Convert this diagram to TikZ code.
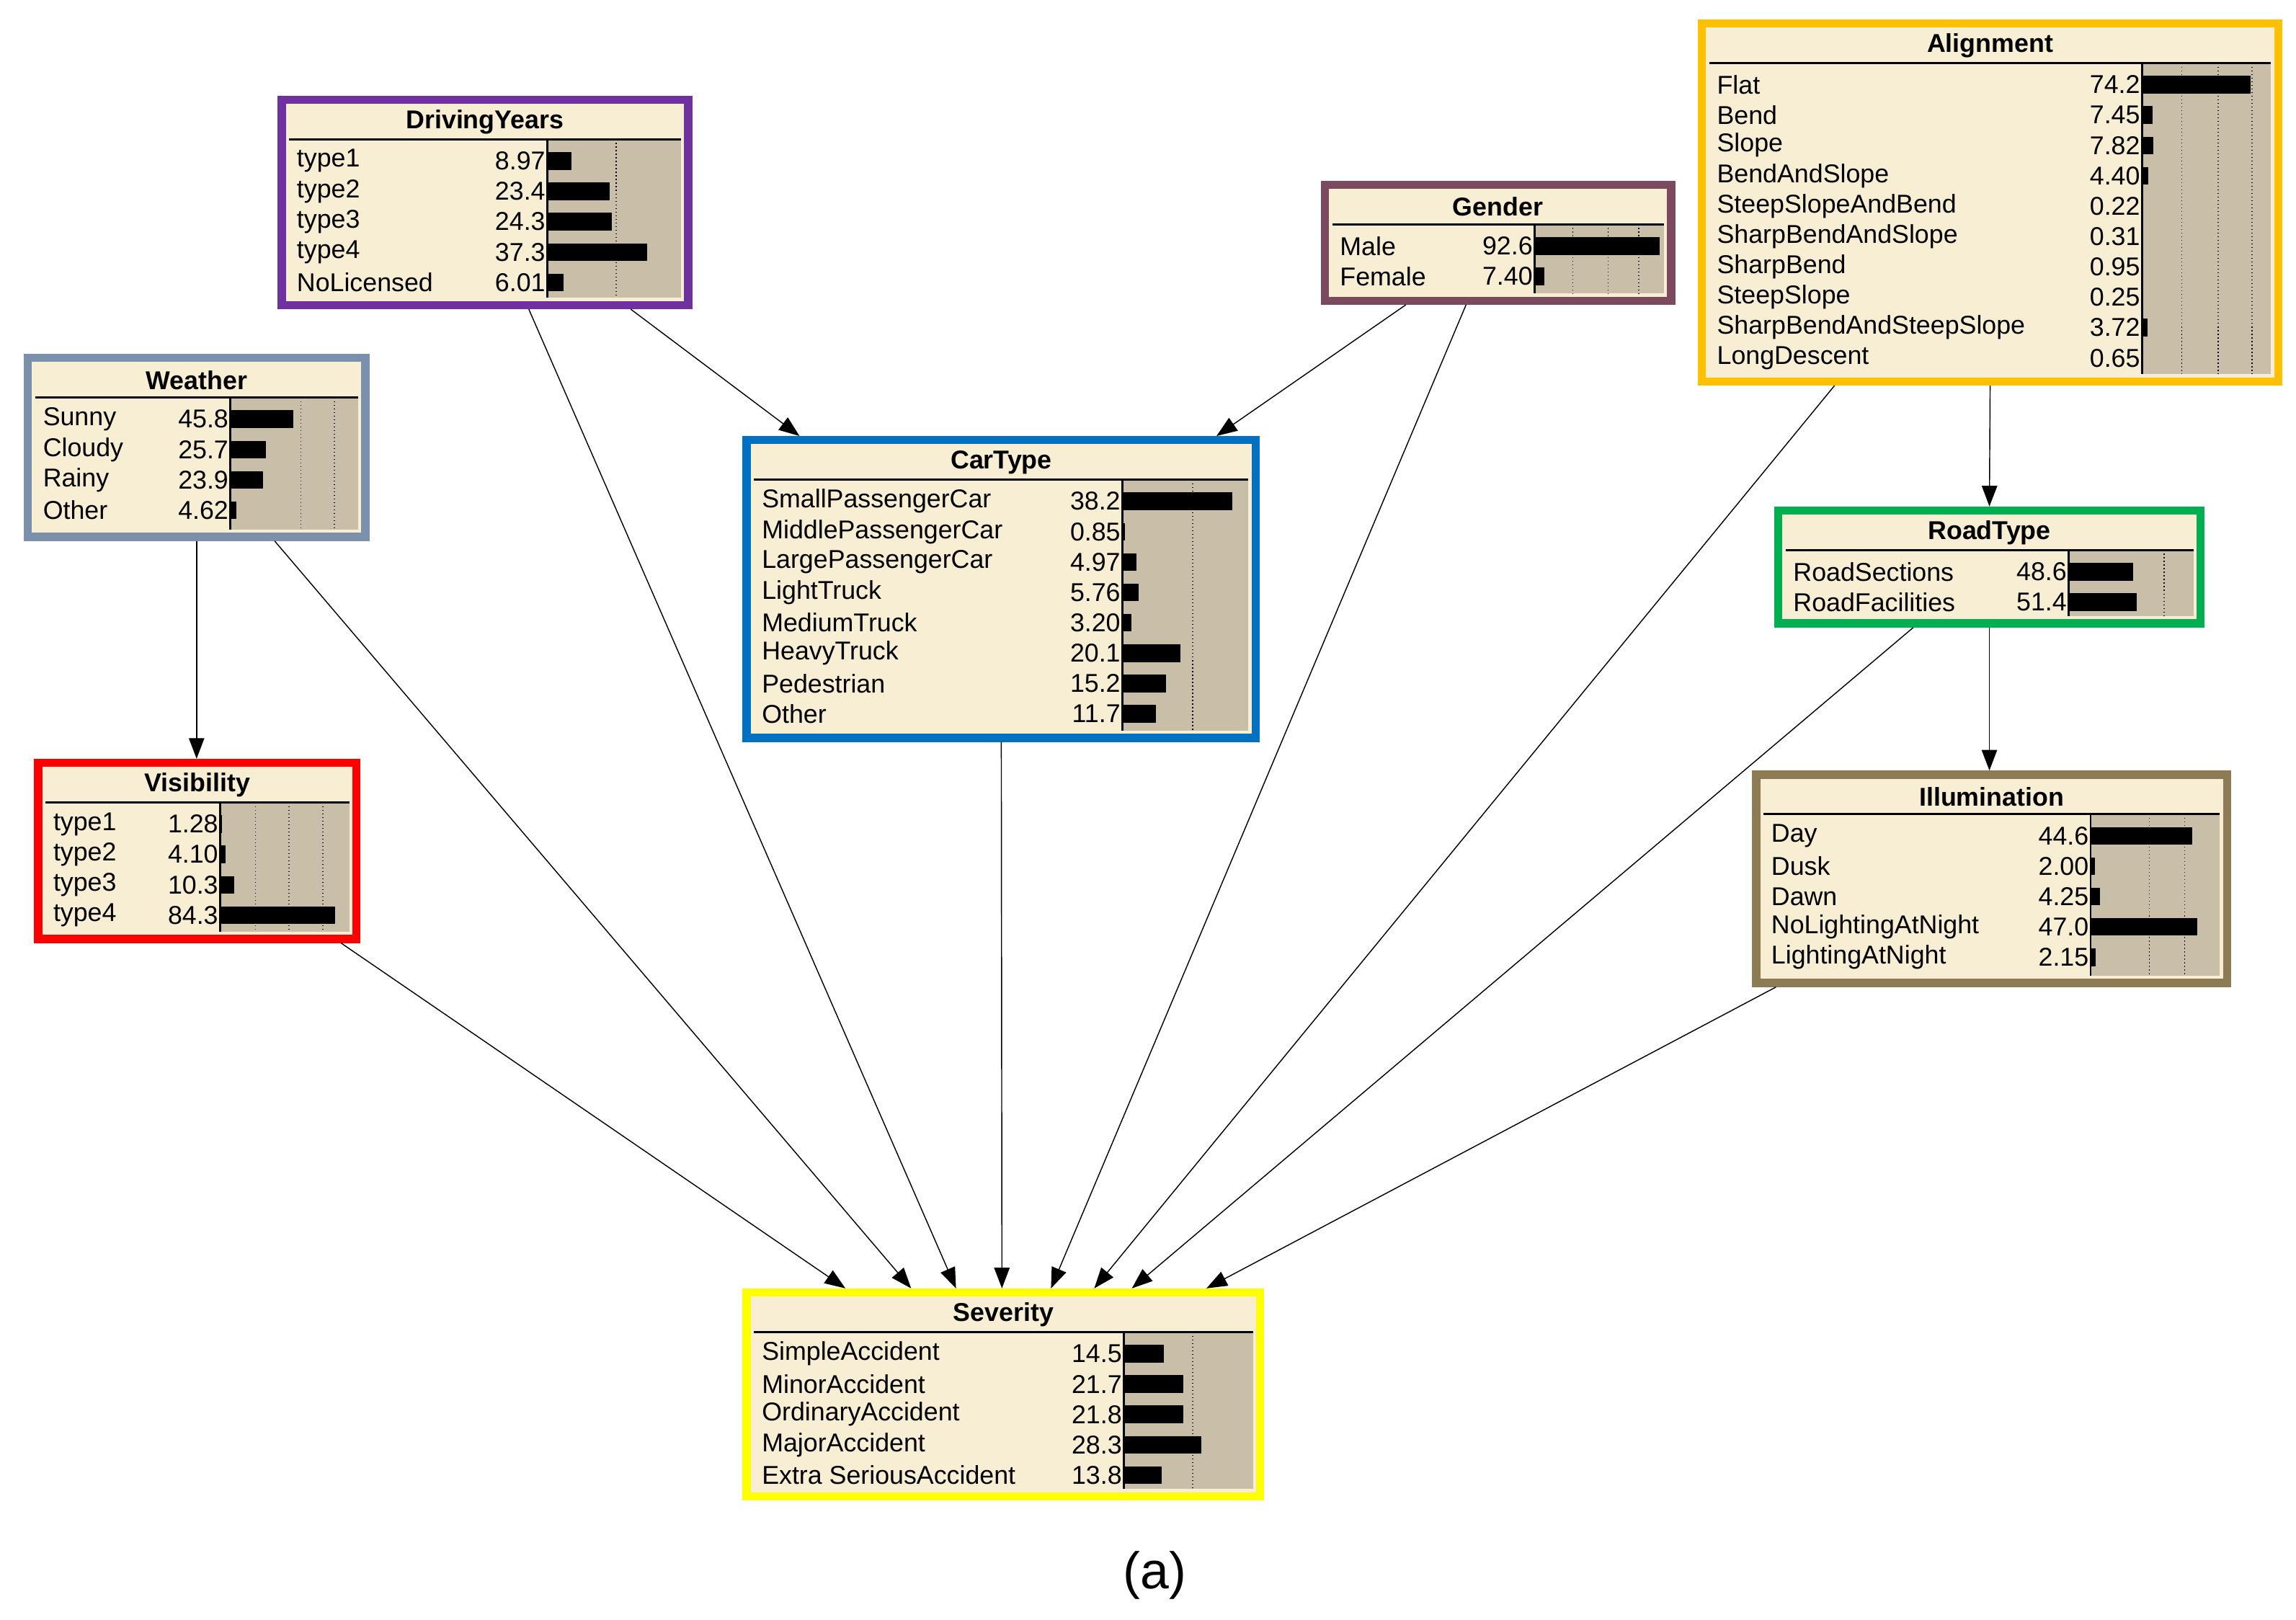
\documentclass[tikz,border=0pt]{standalone}
\usepackage{fontspec}
\setmainfont{Liberation Sans}
\usetikzlibrary{arrows.meta,calc}
\definecolor{cream}{HTML}{F8EED4}
\definecolor{bararea}{HTML}{C9BFA9}
\definecolor{cDriving}{HTML}{7030A0}
\definecolor{cWeather}{HTML}{7A90AC}
\definecolor{cGender}{HTML}{7B4A5E}
\definecolor{cAlign}{HTML}{FFC000}
\definecolor{cCar}{HTML}{0070C0}
\definecolor{cRoad}{HTML}{00B050}
\definecolor{cVis}{HTML}{FF0000}
\definecolor{cIllum}{HTML}{8C7B55}
\definecolor{cSev}{HTML}{FFFF00}
% #1 name, #2 colour, #3 title, #4-#7 x1,y1,x2,y2, #8 bar start, #9 px per percent
\newcommand{\bnnode}[9]{%
  \pgfmathsetmacro{\bw}{(#6-#4)*0.02}
  \pgfmathsetmacro{\bh}{(#7-#5)*0.02}
  \node[bn box, draw=#2, minimum width=\bw cm, minimum height=\bh cm] (#1) at ({(#4+#6)/2},{(#5+#7)/2}) {};
  \fill[bararea] (#8,#5+27) rectangle (#6-5,#7-5);
  \foreach \dx in \bndivs {\draw[densely dotted, thin] (\dx,#5+27) -- (\dx,#7-5);}
  \draw[thick] (#4+5,#5+27) -- (#6-5,#5+27);
  \draw[thick] (#8,#5+27) -- (#8,#7-5);
  \node[bn title] at ({(#4+#6)/2},#5+15) {#3};
  \foreach \lab/\val [count=\i] in \bnrows {
    \pgfmathsetmacro{\ry}{#5+21+20.7*\i}
    \node[bn text, anchor=west] at (#4+10,\ry) {\lab};
    \node[bn text, anchor=east] at (#8-1,\ry) {\val};
    \fill (#8,\ry-6) rectangle ({#8+\val*#9},\ry+6);
  }
}
\begin{document}
\begin{tikzpicture}[x=0.02cm, y=-0.02cm,
  bn box/.style={rectangle, fill=cream, line width=3.2pt, inner sep=0pt},
  bn title/.style={font=\fontsize{10}{12}\selectfont\bfseries, inner sep=0pt},
  bn text/.style={font=\fontsize{10}{12}\selectfont, inner sep=0pt},
  edge/.style={-{Triangle[length=8pt,width=6pt]}, thin}]
\useasboundingbox[fill=white] (0,0) rectangle (1565,1104);

\def\bndivs{420}
\def\bnrows{type1/8.97,type2/23.4,type3/24.3,type4/37.3,NoLicensed/6.01}
\bnnode{driving}{cDriving}{DrivingYears}{192}{68}{469}{208}{373}{1.82}

\def\bndivs{205,228}
\def\bnrows{Sunny/45.8,Cloudy/25.7,Rainy/23.9,Other/4.62}
\bnnode{weather}{cWeather}{Weather}{19}{244}{249}{366}{157}{0.94}

\def\bndivs{1072,1096,1117}
\def\bnrows{Male/92.6,Female/7.40}
\bnnode{gender}{cGender}{Gender}{903}{126}{1139}{205}{1046}{0.92}

\def\bndivs{1487,1512,1535}
\def\bnrows{Flat/74.2,Bend/7.45,Slope/7.82,BendAndSlope/4.40,SteepSlopeAndBend/0.22,SharpBendAndSlope/0.31,SharpBend/0.95,SteepSlope/0.25,SharpBendAndSteepSlope/3.72,LongDescent/0.65}
\bnnode{align}{cAlign}{Alignment}{1160}{16}{1553}{260}{1460}{1.0}

\def\bndivs{813}
\def\bnrows{SmallPassengerCar/38.2,MiddlePassengerCar/0.85,LargePassengerCar/4.97,LightTruck/5.76,MediumTruck/3.20,HeavyTruck/20.1,Pedestrian/15.2,Other/11.7}
\bnnode{car}{cCar}{CarType}{509}{300}{856}{503}{765}{1.96}

\def\bndivs{1475}
\def\bnrows{RoadSections/48.6,RoadFacilities/51.4}
\bnnode{road}{cRoad}{RoadType}{1212}{348}{1500}{425}{1410}{0.9}

\def\bndivs{174,197,220}
\def\bnrows{type1/1.28,type2/4.10,type3/10.3,type4/84.3}
\bnnode{vis}{cVis}{Visibility}{26}{520}{243}{640}{150}{0.93}

\def\bndivs{1465,1489}
\def\bnrows{Day/44.6,Dusk/2.00,Dawn/4.25,NoLightingAtNight/47.0,LightingAtNight/2.15}
\bnnode{illum}{cIllum}{Illumination}{1197}{528}{1518}{670}{1425}{1.55}

\def\bndivs{813}
\def\bnrows{SimpleAccident/14.5,MinorAccident/21.7,OrdinaryAccident/21.8,MajorAccident/28.3,Extra SeriousAccident/13.8}
\bnnode{sev}{cSev}{Severity}{509}{881}{859}{1020}{766}{1.87}

\node[font=\fontsize{20}{24}\selectfont\rmfamily] (cap) at (787,1074) {(a)};

% edges
\draw[edge] (weather.south) -- (vis.north -| weather.south);
\draw[edge] (align.south) -- (road.north);
\draw[edge] (road.south) -- (illum.north -| road.south);
\draw[edge] ($(driving.south west)!0.852!(driving.south east)$) -- ($(car.north west)!0.11!(car.north east)$);
\draw[edge] ($(gender.south west)!0.24!(gender.south east)$) -- ($(car.north west)!0.916!(car.north east)$);
\draw[edge] ($(vis.south west)!0.94!(vis.south east)$) -- ($(sev.north west)!0.197!(sev.north east)$);
\draw[edge] ($(weather.south west)!0.726!(weather.south east)$) -- ($(sev.north west)!0.323!(sev.north east)$);
\draw[edge] ($(driving.south west)!0.606!(driving.south east)$) -- ($(sev.north west)!0.409!(sev.north east)$);
\draw[edge] (car.south) -- ($(sev.north west)!0.497!(sev.north east)$);
\draw[edge] ($(gender.south west)!0.41!(gender.south east)$) -- ($(sev.north west)!0.591!(sev.north east)$);
\draw[edge] ($(align.south west)!0.234!(align.south east)$) -- ($(sev.north west)!0.674!(sev.north east)$);
\draw[edge] ($(road.south west)!0.323!(road.south east)$) -- ($(sev.north west)!0.746!(sev.north east)$);
\draw[edge] ($(illum.south west)!0.05!(illum.south east)$) -- ($(sev.north west)!0.889!(sev.north east)$);
\end{tikzpicture}
\end{document}
